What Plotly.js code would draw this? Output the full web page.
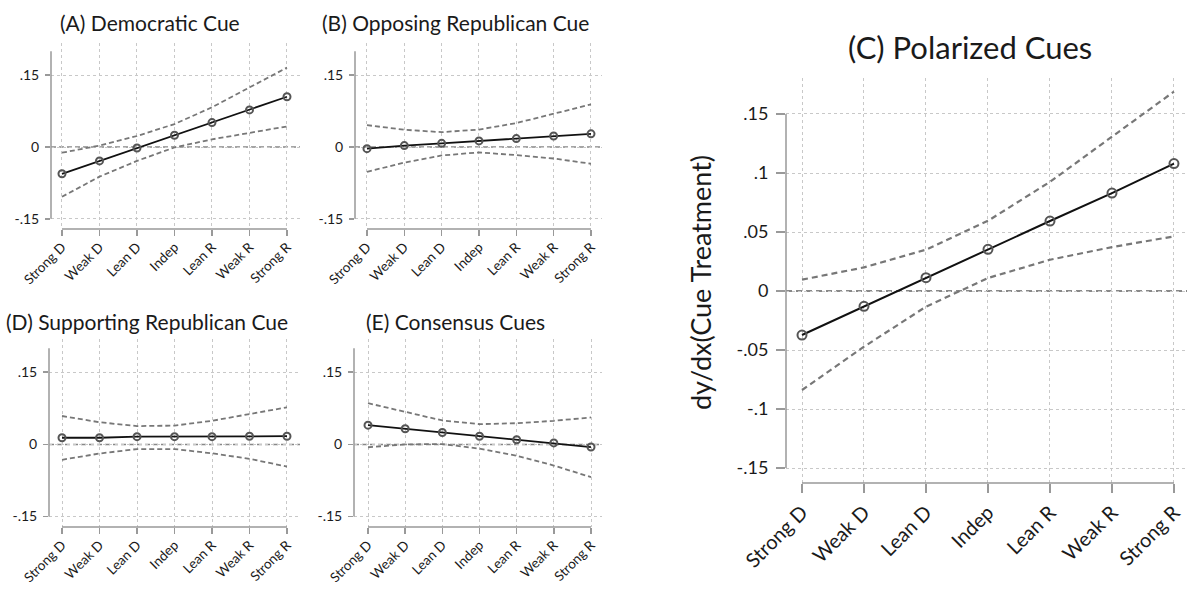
<!DOCTYPE html>
<html>
<head>
<meta charset="utf-8">
<script src="https://cdn.plot.ly/plotly-3.0.1.min.js"></script>
<style>html,body{margin:0;padding:0;background:#fff;}#chart{width:1187px;height:589px;}</style>
</head>
<body>
<div id="chart"></div>
<script>
// ---- data ----
const categories = ["Strong D","Weak D","Lean D","Indep","Lean R","Weak R","Strong R"];

const titleA = "(A) Democratic Cue";
const estA   = [-0.056, -0.029, -0.002, 0.0245, 0.051, 0.0776, 0.105];
const upperA = [-0.012, 0.003, 0.023, 0.048, 0.083, 0.125, 0.166];
const lowerA = [-0.104, -0.062, -0.029, -0.001, 0.016, 0.030, 0.043];

const titleB = "(B) Opposing Republican Cue";
const estB   = [-0.0035, 0.003, 0.0077, 0.0127, 0.0176, 0.023, 0.0275];
const upperB = [0.0457, 0.036, 0.031, 0.0365, 0.050, 0.070, 0.089];
const lowerB = [-0.052, -0.0325, -0.0177, -0.0113, -0.017, -0.024, -0.035];

const titleD = "(D) Supporting Republican Cue";
const estD   = [0.0138, 0.0138, 0.016, 0.016, 0.016, 0.017, 0.017];
const upperD = [0.059, 0.046, 0.038, 0.039, 0.049, 0.063, 0.077];
const lowerD = [-0.032, -0.019, -0.0097, -0.0097, -0.0186, -0.030, -0.046];

const titleE = "(E) Consensus Cues";
const estE   = [0.040, 0.0324, 0.0248, 0.017, 0.0097, 0.003, -0.0055];
const upperE = [0.0856, 0.0676, 0.0497, 0.042, 0.044, 0.049, 0.056];
const lowerE = [-0.006, 0.0, 0.0007, -0.009, -0.0235, -0.044, -0.068];

const titleC = "(C) Polarized Cues";
const estC   = [-0.0373, -0.013, 0.0113, 0.0353, 0.0593, 0.083, 0.108];
const upperC = [0.0096, 0.020, 0.035, 0.0595, 0.0925, 0.1306, 0.169];
const lowerC = [-0.0839, -0.0472, -0.0133, 0.011, 0.0265, 0.0372, 0.0463];

const smallTickVals = [-0.15, 0, 0.15];
const smallTickText = ["-.15", "0", ".15"];
const bigTickVals = [-0.15, -0.1, -0.05, 0, 0.05, 0.1, 0.15];
const bigTickText = ["-.15", "-.1", "-.05", "0", ".05", ".1", ".15"];
const yTitleC = "dy/dx(Cue Treatment)";

// ---- layout helpers ----
const W = 1187, H = 589;
const FONT = "Lato, 'Open Sans', sans-serif";
const px = v => v / W;
const py = v => 1 - v / H;

const panels = [
  {id: "", est: estA, up: upperA, lo: lowerA, title: titleA, xd: [51, 300], yd: [43, 229], xr: [-0.293, 6.347], yr: [-0.1714, 0.2174], ytop: 0.2, big: false, tx: 150, ty: 22},
  {id: "2", est: estB, up: upperB, lo: lowerB, title: titleB, xd: [355, 602], yd: [43, 229], xr: [-0.321, 6.295], yr: [-0.1714, 0.2174], ytop: 0.2, big: false, tx: 455, ty: 22},
  {id: "3", est: estD, up: upperD, lo: lowerD, title: titleD, xd: [49, 300], yd: [339, 527], xr: [-0.347, 6.347], yr: [-0.1717, 0.219], ytop: 0.2, big: false, tx: 147, ty: 321},
  {id: "4", est: estE, up: upperE, lo: lowerE, title: titleE, xd: [354, 602], yd: [339, 527], xr: [-0.377, 6.296], yr: [-0.1717, 0.219], ytop: 0.2, big: false, tx: 455, ty: 321},
  {id: "5", est: estC, up: upperC, lo: lowerC, title: titleC, xd: [786, 1187], yd: [78, 483], xr: [-0.258, 6.21], yr: [-0.1627, 0.1805], ytop: 0.15, big: true, tx: 970, ty: 47}
];

const traces = [];
const layout = {
  width: W, height: H,
  margin: {l: 0, r: 0, t: 0, b: 0},
  paper_bgcolor: "#fff", plot_bgcolor: "#fff",
  showlegend: false,
  font: {family: FONT, color: "#1a1a1a"},
  shapes: [], annotations: []
};

panels.forEach(p => {
  const xa = "x" + p.id, ya = "y" + p.id;
  const dashW = p.big ? 2.2 : 1.8;
  [p.up, p.lo].forEach(arr => traces.push({
    type: "scatter", mode: "lines", x: categories, y: arr, xaxis: xa, yaxis: ya,
    line: {color: "#777", width: dashW, dash: p.big ? "6px,4px" : "5px,3px"}, hoverinfo: "skip"
  }));
  traces.push({
    type: "scatter", mode: "lines+markers", x: categories, y: p.est, xaxis: xa, yaxis: ya,
    line: {color: "#111", width: p.big ? 2 : 1.8},
    marker: {symbol: "circle-open", size: p.big ? 9 : 7, color: "#555", line: {width: 2, color: "#555"}}
  });
  const tickFont = {family: FONT, size: p.big ? 20 : 13.5, color: "#1a1a1a"};
  layout["xaxis" + p.id] = {
    domain: [px(p.xd[0]), px(p.xd[1])], anchor: ya, type: "category",
    range: p.xr, tickvals: categories, ticktext: categories, tickangle: -45,
    ticks: "outside", ticklen: p.big ? 9 : 6, tickwidth: 1.5, tickcolor: "#999",
    showgrid: true, gridcolor: "#c8c8c8", griddash: "dot", gridwidth: 1,
    showline: false, zeroline: false, tickfont: tickFont, fixedrange: true,
    ticklabelstandoff: p.big ? 0 : -2
  };
  layout["yaxis" + p.id] = {
    domain: [py(p.yd[1]), py(p.yd[0])], anchor: xa,
    range: p.yr, tickvals: p.big ? bigTickVals : smallTickVals, ticktext: p.big ? bigTickText : smallTickText,
    ticks: "outside", ticklen: p.big ? 9 : 5, tickwidth: 1.5, tickcolor: "#999",
    showgrid: true, gridcolor: "#c8c8c8", griddash: "dot", gridwidth: 1,
    showline: false, zeroline: false, tickfont: {family: FONT, size: p.big ? 18 : 14, color: "#1a1a1a"},
    ticklabelstandoff: p.big ? 4 : 3, fixedrange: true
  };
  // axis lines (Stata-style, spanning tick range)
  layout.shapes.push({type: "line", xref: xa + " domain", yref: ya, x0: 0, x1: 0, y0: -0.15, y1: p.ytop, line: {color: "#999", width: 1.5}});
  layout.shapes.push({type: "line", xref: xa, yref: ya + " domain", x0: 0, x1: 6, y0: 0, y1: 0, line: {color: "#999", width: 1.5}});
  // zero reference line
  layout.shapes.push({type: "line", xref: xa + " domain", yref: ya, x0: 0, x1: 1, y0: 0, y1: 0, layer: "below", line: {color: "#888", width: p.big ? 2 : 1.5, dash: p.big ? "6px,4px" : "5px,3px"}});
  layout.annotations.push({
    text: p.title, xref: "paper", yref: "paper", x: px(p.tx), y: py(p.ty),
    xanchor: "center", yanchor: "middle", showarrow: false,
    font: {family: FONT, size: p.big ? 31 : 21, color: "#1a1a1a"}
  });
});

layout.annotations.push({
  text: yTitleC, xref: "paper", yref: "paper", x: px(700), y: py(283),
  xanchor: "center", yanchor: "middle", textangle: -90, showarrow: false,
  font: {family: FONT, size: 27, color: "#1a1a1a"}
});

Plotly.newPlot("chart", traces, layout, {displayModeBar: false, staticPlot: true});
</script>
</body>
</html>
